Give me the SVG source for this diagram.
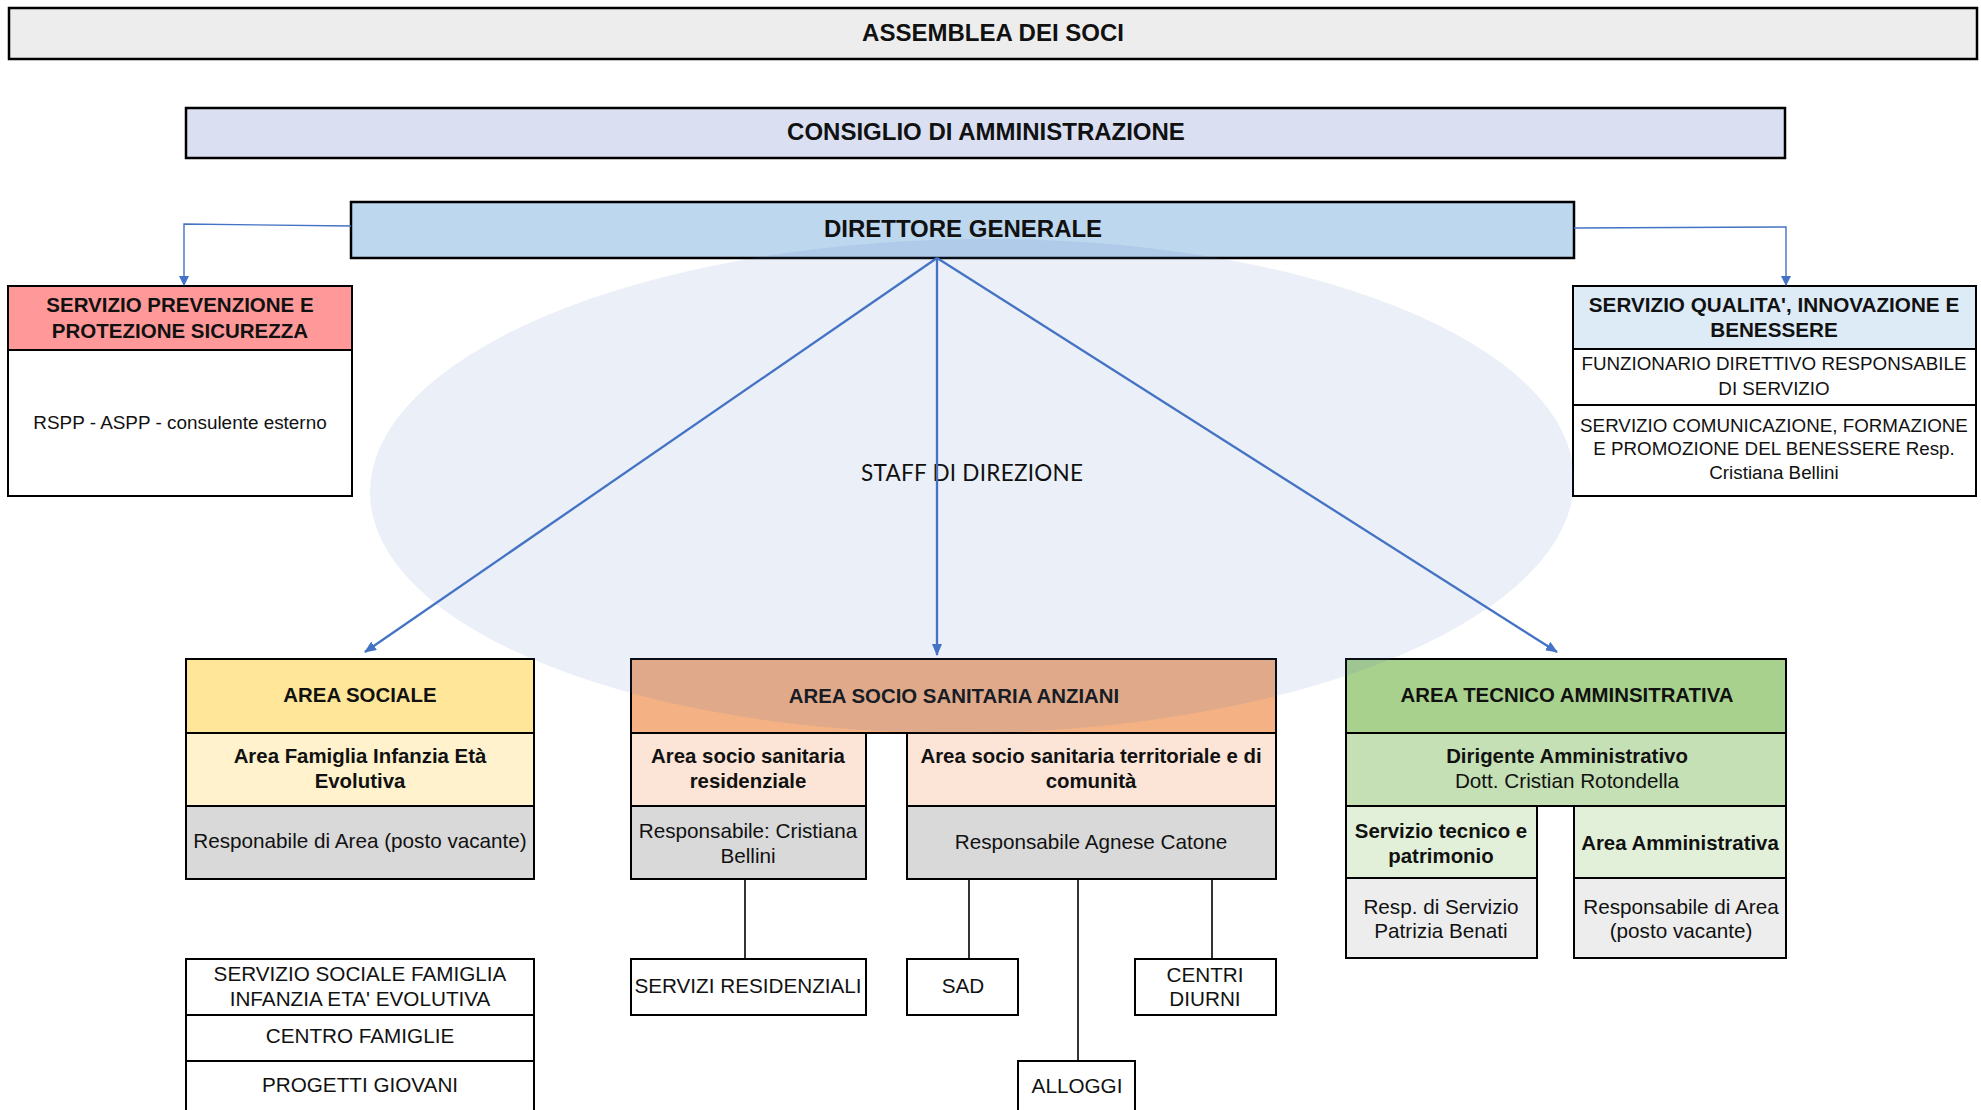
<svg xmlns="http://www.w3.org/2000/svg" width="1981" height="1110" viewBox="0 0 1981 1110">
<style>
  .box { stroke: #000; stroke-width: 2; }
  .top { stroke: #000; stroke-width: 2.5; }
  text { font-family: "Liberation Sans", Arial, sans-serif; fill: #111; text-anchor: middle; }
  .h1 { font-size: 24px; font-weight: bold; }
  .b { font-size: 20.4px; font-weight: bold; }
  .r { font-size: 20.7px; }
  .s { font-size: 18.8px; }
  .conn { stroke: #4472c4; fill: none; }
  .main { stroke-width: 2.3; }
  .side { stroke-width: 1.4; }
  .tree { stroke: #000; stroke-width: 1.6; fill: none; }
</style>
<defs>
  <marker id="arr" viewBox="0 0 12 10" markerWidth="12" markerHeight="10" refX="11" refY="5" orient="auto" markerUnits="userSpaceOnUse">
    <path d="M0,0 L12,5 L0,10 z" fill="#4472c4"/>
  </marker>
  <marker id="arrs" viewBox="0 0 10 10" markerWidth="10" markerHeight="10" refX="9" refY="5" orient="auto" markerUnits="userSpaceOnUse">
    <path d="M0,0 L10,5 L0,10 z" fill="#4472c4"/>
  </marker>
</defs>
<rect width="1981" height="1110" fill="#fff"/>

<g id="assemblea">
  <rect class="top" x="9" y="8" width="1968" height="51" fill="#ededed"/>
  <text class="h1" x="993" y="41">ASSEMBLEA DEI SOCI</text>
</g>
<g id="consiglio">
  <rect class="top" x="186" y="108" width="1599" height="50" fill="#dae0f2"/>
  <text class="h1" x="986" y="140">CONSIGLIO DI AMMINISTRAZIONE</text>
</g>
<g id="direttore">
  <rect class="top" x="351" y="202" width="1223" height="56" fill="#bdd7ee"/>
  <text class="h1" x="963" y="237">DIRETTORE GENERALE</text>
</g>

<g id="prevenzione">
  <rect class="box" x="8" y="286" width="344" height="210" fill="#fff"/>
  <rect class="box" x="8" y="286" width="344" height="64" fill="#ff9999"/>
  <text class="b" x="180" y="312" style="font-size:20.5px">SERVIZIO PREVENZIONE E</text>
  <text class="b" x="180" y="338" style="font-size:20.5px">PROTEZIONE SICUREZZA</text>
  <text class="s" x="180" y="429" style="font-size:18.9px">RSPP - ASPP - consulente esterno</text>
</g>

<g id="qualita">
  <rect class="box" x="1573" y="286" width="403" height="63" fill="#ddebf7"/>
  <rect class="box" x="1573" y="349" width="403" height="56" fill="#fff"/>
  <rect class="box" x="1573" y="405" width="403" height="91" fill="#fff"/>
  <text class="b" x="1774" y="312" style="font-size:20.7px">SERVIZIO QUALITA', INNOVAZIONE E</text>
  <text class="b" x="1774" y="337" style="font-size:20.7px">BENESSERE</text>
  <text class="s" x="1774" y="370">FUNZIONARIO DIRETTIVO RESPONSABILE</text>
  <text class="s" x="1774" y="395">DI SERVIZIO</text>
  <text class="s" x="1774" y="432">SERVIZIO COMUNICAZIONE, FORMAZIONE</text>
  <text class="s" x="1774" y="455">E PROMOZIONE DEL BENESSERE Resp.</text>
  <text class="s" x="1774" y="479">Cristiana Bellini</text>
</g>

<g id="area-sociale">
  <rect class="box" x="186" y="659" width="348" height="74" fill="#ffe699"/>
  <rect class="box" x="186" y="733" width="348" height="73" fill="#fff2cc"/>
  <rect class="box" x="186" y="806" width="348" height="73" fill="#d9d9d9"/>
  <text class="b" x="360" y="702">AREA SOCIALE</text>
  <text class="b" x="360" y="763">Area Famiglia Infanzia Età</text>
  <text class="b" x="360" y="788">Evolutiva</text>
  <text class="r" x="360" y="848">Responabile di Area (posto vacante)</text>
</g>

<g id="servizi-sociali">
  <rect class="box" x="186" y="959" width="348" height="56" fill="#fff"/>
  <rect class="box" x="186" y="1015" width="348" height="46" fill="#fff"/>
  <rect class="box" x="186" y="1061" width="348" height="60" fill="#fff"/>
  <text class="r" x="360" y="981">SERVIZIO SOCIALE FAMIGLIA</text>
  <text class="r" x="360" y="1006">INFANZIA ETA' EVOLUTIVA</text>
  <text class="r" x="360" y="1043">CENTRO FAMIGLIE</text>
  <text class="r" x="360" y="1092">PROGETTI GIOVANI</text>
</g>

<g id="area-anziani">
  <rect class="box" x="631" y="659" width="645" height="74" fill="#f4b183"/>
  <rect class="box" x="631" y="733" width="235" height="73" fill="#fce4d6"/>
  <rect class="box" x="631" y="806" width="235" height="73" fill="#d9d9d9"/>
  <rect class="box" x="907" y="733" width="369" height="73" fill="#fce4d6"/>
  <rect class="box" x="907" y="806" width="369" height="73" fill="#d9d9d9"/>
  <text class="b" x="954" y="703">AREA SOCIO SANITARIA ANZIANI</text>
  <text class="b" x="748" y="763">Area socio sanitaria</text>
  <text class="b" x="748" y="788">residenziale</text>
  <text class="b" x="1091" y="763">Area socio sanitaria territoriale e di</text>
  <text class="b" x="1091" y="788">comunità</text>
  <text class="r" x="748" y="838">Responsabile: Cristiana</text>
  <text class="r" x="748" y="863">Bellini</text>
  <text class="r" x="1091" y="849">Responsabile Agnese Catone</text>
</g>

<g id="servizi-residenziali">
  <rect class="box" x="631" y="959" width="235" height="56" fill="#fff"/>
  <text class="r" x="748" y="993">SERVIZI RESIDENZIALI</text>
</g>
<g id="sad">
  <rect class="box" x="907" y="959" width="111" height="56" fill="#fff"/>
  <text class="r" x="963" y="993">SAD</text>
</g>
<g id="centri-diurni">
  <rect class="box" x="1135" y="959" width="141" height="56" fill="#fff"/>
  <text class="r" x="1205" y="982">CENTRI</text>
  <text class="r" x="1205" y="1006">DIURNI</text>
</g>
<g id="alloggi">
  <rect class="box" x="1018" y="1061" width="117" height="60" fill="#fff"/>
  <text class="r" x="1077" y="1093">ALLOGGI</text>
</g>

<g id="area-tecnico">
  <rect class="box" x="1346" y="659" width="440" height="74" fill="#a9d18e"/>
  <rect class="box" x="1346" y="733" width="440" height="73" fill="#c5e0b4"/>
  <rect class="box" x="1346" y="806" width="191" height="72" fill="#e2f0d9"/>
  <rect class="box" x="1346" y="878" width="191" height="80" fill="#ededed"/>
  <rect class="box" x="1574" y="806" width="212" height="72" fill="#e2f0d9"/>
  <rect class="box" x="1574" y="878" width="212" height="80" fill="#ededed"/>
  <text class="b" x="1567" y="702">AREA TECNICO AMMINSITRATIVA</text>
  <text class="b" x="1567" y="763">Dirigente Amministrativo</text>
  <text class="r" x="1567" y="788">Dott. Cristian Rotondella</text>
  <text class="b" x="1441" y="838">Servizio tecnico e</text>
  <text class="b" x="1441" y="863">patrimonio</text>
  <text class="b" x="1680" y="850">Area Amministrativa</text>
  <text class="r" x="1441" y="914">Resp. di Servizio</text>
  <text class="r" x="1441" y="938">Patrizia Benati</text>
  <text class="r" x="1681" y="914">Responsabile di Area</text>
  <text class="r" x="1681" y="938">(posto vacante)</text>
</g>

<g id="staff">
  <ellipse cx="972" cy="486" rx="602" ry="247" transform="rotate(-0.7 972 486)" fill="#4472c4" fill-opacity="0.115"/>
  <text x="972" y="481" style="font-family:Lato,'Open Sans',sans-serif;font-size:22.5px" textLength="222">STAFF DI DIREZIONE</text>
</g>

<g id="connectors">
  <path class="conn main" d="M937,258 L365,652" marker-end="url(#arr)"/>
  <path class="conn main" d="M937,258 L937,655" marker-end="url(#arr)"/>
  <path class="conn main" d="M937,258 L1557,652" marker-end="url(#arr)"/>
  <path class="conn side" d="M351,226 L184,224 L184,285" marker-end="url(#arrs)"/>
  <path class="conn side" d="M1574,228 L1786,227 L1786,285" marker-end="url(#arrs)"/>
  <path class="tree" d="M745,879 V959"/>
  <path class="tree" d="M969,879 V959"/>
  <path class="tree" d="M1078,879 V1061"/>
  <path class="tree" d="M1212,879 V959"/>
</g>
</svg>
